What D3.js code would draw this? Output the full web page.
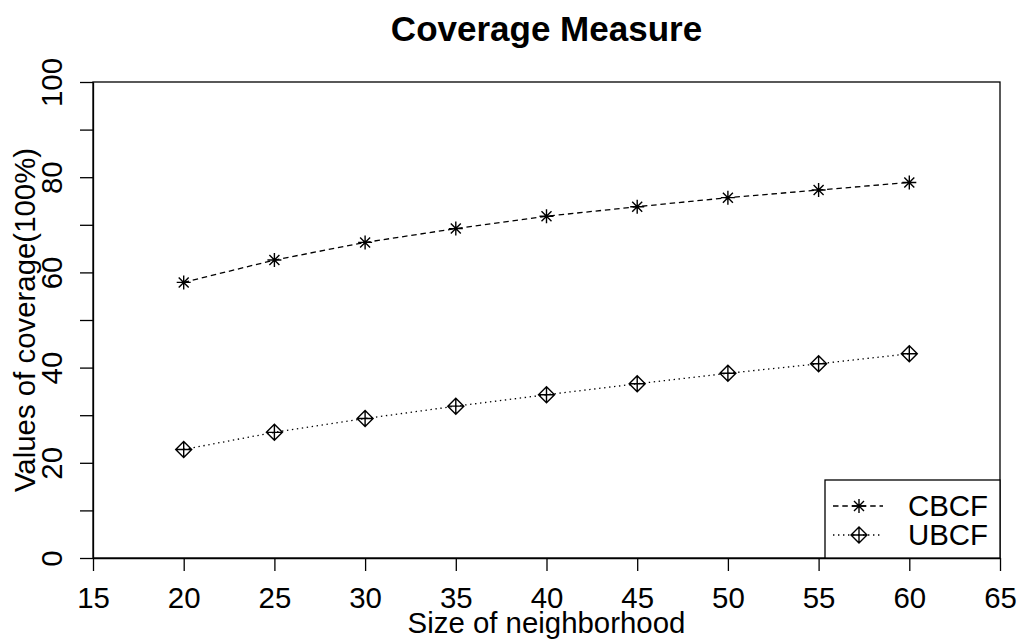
<html>
<meta charset="utf-8" />
<head>
<title>Coverage Measure</title>
<script src="https://cdn.jsdelivr.net/npm/d3@7/dist/d3.min.js"></script>
<style>
  body { margin: 0; background: #fff; }
  svg { font-family: "Liberation Sans", Arial, sans-serif; }
</style>
</head>
<body>
<svg width="1019" height="640"></svg>
<script>
// neighborhood sizes and coverage values (%)
const sizes = [20, 25, 30, 35, 40, 45, 50, 55, 60];
const cbcf = [57.9, 62.6, 66.3, 69.2, 71.8, 73.8, 75.7, 77.3, 78.9];
const ubcf = [22.8, 26.4, 29.3, 31.9, 34.3, 36.6, 38.8, 40.8, 42.9];
const xTicks = [15, 20, 25, 30, 35, 40, 45, 50, 55, 60, 65];
const yTicks = [0, 20, 40, 60, 80, 100];
const yMinor = [10, 30, 50, 70, 90];
const seriesNames = ["CBCF", "UBCF"];

const svg = d3.select('svg');
const pLeft = 93, pRight = 1000, pTop = 82, pBottom = 558;
const fs = 29.4;
const fam = '"Liberation Sans", Arial, sans-serif';

const x = d3.scaleLinear().domain([15, 65]).range([pLeft, pRight]);
const y = d3.scaleLinear().domain([0, 100]).range([pBottom, pTop]);

// box
svg.append('rect')
  .attr('x', pLeft).attr('y', pTop)
  .attr('width', pRight - pLeft).attr('height', pBottom - pTop)
  .attr('fill', 'none').attr('stroke', '#000').attr('stroke-width', 1.3);

// x axis
const xAxis = svg.append('g')
  .attr('transform', `translate(0,${pBottom})`)
  .call(d3.axisBottom(x).tickValues(xTicks).tickSize(13).tickPadding(16).tickSizeOuter(0));
xAxis.select('.domain').attr('stroke-width', 1.3);
xAxis.selectAll('.tick line').attr('stroke-width', 1.3);
xAxis.selectAll('.tick text').attr('font-size', fs).attr('fill', '#000')
  .attr('font-family', fam);

// y axis: labelled ticks plus unlabelled in-between ticks
const yAxis = svg.append('g')
  .attr('transform', `translate(${pLeft},0)`)
  .call(d3.axisLeft(y).tickValues(yTicks.concat(yMinor)).tickSize(13)
    .tickFormat(d => yTicks.includes(d) ? d : '').tickSizeOuter(0));
yAxis.select('.domain').attr('stroke-width', 1.3);
yAxis.selectAll('.tick line').attr('stroke-width', 1.3);
yAxis.selectAll('.tick text')
  .attr('font-size', fs).attr('fill', '#000')
  .attr('font-family', fam)
  .attr('x', 0).attr('dy', 0)
  .attr('text-anchor', 'middle')
  .attr('transform', 'translate(-31,0) rotate(-90)');

// titles
svg.append('text')
  .attr('x', (pLeft + pRight) / 2).attr('y', 41)
  .attr('text-anchor', 'middle')
  .attr('font-size', 35).attr('font-weight', 'bold')
  .text('Coverage Measure');

svg.append('text')
  .attr('x', (pLeft + pRight) / 2).attr('y', 633)
  .attr('text-anchor', 'middle')
  .attr('font-size', fs)
  .text('Size of neighborhood');

svg.append('text')
  .attr('transform', `translate(35,${(pTop + pBottom) / 2}) rotate(-90)`)
  .attr('text-anchor', 'middle')
  .attr('font-size', fs)
  .text('Values of coverage(100%)');

// symbols
function asterisk(g, cx, cy) {
  const r = 7, d = 5;
  g.append('path')
    .attr('d', `M${cx - r},${cy}H${cx + r}M${cx},${cy - r}V${cy + r}` +
      `M${cx - d},${cy - d}L${cx + d},${cy + d}M${cx - d},${cy + d}L${cx + d},${cy - d}`)
    .attr('stroke', '#000').attr('stroke-width', 1.4).attr('fill', 'none');
}
function diamondPlus(g, cx, cy) {
  const r = 8;
  g.append('path')
    .attr('d', `M${cx - r},${cy}L${cx},${cy - r}L${cx + r},${cy}L${cx},${cy + r}Z` +
      `M${cx - r},${cy}H${cx + r}M${cx},${cy - r}V${cy + r}`)
    .attr('stroke', '#000').attr('stroke-width', 1.4).attr('fill', 'none');
}

const line = d3.line().x(d => x(d[0])).y(d => y(d[1]));

const series = [
  { name: seriesNames[0], values: cbcf, dash: '5.5,3.8', sym: asterisk },
  { name: seriesNames[1], values: ubcf, dash: '1.4,3.6', sym: diamondPlus }
];

series.forEach(s => {
  const pts = sizes.map((v, i) => [v, s.values[i]]);
  svg.append('path')
    .attr('d', line(pts))
    .attr('fill', 'none').attr('stroke', '#000')
    .attr('stroke-width', 1.3).attr('stroke-dasharray', s.dash);
  const g = svg.append('g');
  pts.forEach(p => s.sym(g, x(p[0]), y(p[1])));
});

// legend
const lg = svg.append('g');
lg.append('rect')
  .attr('x', 825).attr('y', 480).attr('width', pRight - 825).attr('height', pBottom - 480)
  .attr('fill', '#fff').attr('stroke', '#000').attr('stroke-width', 1.3);
series.forEach((s, i) => {
  const ly = 506 + i * 29;
  lg.append('line')
    .attr('x1', 833).attr('x2', 883).attr('y1', ly).attr('y2', ly)
    .attr('stroke', '#000').attr('stroke-width', 1.3).attr('stroke-dasharray', s.dash);
  s.sym(lg, 859, ly);
  lg.append('text')
    .attr('x', 908).attr('y', ly + 10)
    .attr('font-size', fs)
    .text(s.name);
});
</script>
</body>
</html>
